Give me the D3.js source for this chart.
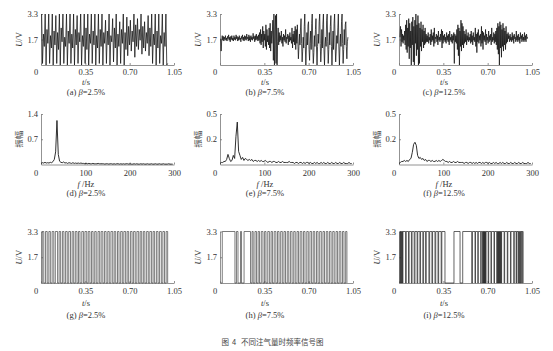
<!DOCTYPE html>
<html>
<head>
<meta charset="utf-8">
<script src="https://cdn.jsdelivr.net/npm/d3@7"></script>
<style>
  body { margin: 0; background: #fff; }
  svg { display: block; }
  .axis path, .axis line { stroke: #777; stroke-width: 0.8; }
  .axis text { font-family: 'Liberation Serif', serif; font-size: 8.5px; fill: #333; }
  .lbl { font-family: 'Liberation Serif', serif; font-size: 8.5px; fill: #333; }
</style>
</head>
<body>
<div id="chart"></div>
<script>
const width = 553
const height = 351

// tick values and their printed labels
const timeTicks = [0, 0.35, 0.7, 1.05]
const freqTicks = [0, 100, 200, 300]
const voltTicks = [1.65, 3.3]
const voltTickLabels = ['1.7', '3.3']
const ampTicksD = [0.7, 1.4]
const ampTickLabelsD = ['0.7', '1.4']
const ampTicksEF = [0.25, 0.5]
const ampTickLabelsEF = ['0.2', '0.5']
const letters = ['a', 'b', 'c', 'd', 'e', 'f', 'g', 'h', 'i']
const betas = ['2.5%', '7.5%', '12.5%']

// row 1: raw output voltage, samples spread evenly over the span (s)
const sigSpanA = [0.005, 1.0]
const sigA = [
  3.3,0.1,2.0,1.2, 3.3,0.0,2.3,1.4, 3.3,0.1,1.9,1.1, 3.3,0.0,2.2,1.3, 3.2,0.1,2.1,1.0,
  3.3,0.0,2.4,1.5, 3.3,0.1,1.8,1.2, 3.3,0.0,2.2,1.4, 3.3,0.1,2.0,1.1, 3.3,0.0,2.3,1.3,
  3.2,0.1,2.1,1.5, 3.3,0.0,1.9,1.2, 3.3,0.1,2.4,1.0, 3.3,0.0,2.0,1.4, 3.3,0.1,2.2,1.3,
  3.3,0.0,1.9,1.1, 3.3,0.1,2.3,1.2, 3.3,0.0,2.1,1.4,
  2.9,0.1,2.2,1.3, 3.3,0.0,1.9,1.5, 3.0,0.2,2.4,1.1, 3.3,0.0,2.0,1.2, 2.8,0.1,2.3,1.4,
  3.3,0.0,2.1,1.0,
  3.1,0.6,2.5,1.3, 2.9,0.9,2.2,1.5, 3.3,0.5,2.6,1.2, 3.0,1.0,2.3,1.6, 3.3,0.7,2.5,1.1,
  2.8,0.9,2.1,1.4, 3.2,0.6,2.4,1.2,
  3.3,0.1,2.0,1.3, 3.3,0.0,2.2,1.1, 3.3,0.1,1.9,1.4, 3.3,0.0,2.1,1.2, 3.3,0.0,0.1
]
const sigSpanB = [0.005, 1.01]
const sigB = [
  1.7,0.9,1.6,1.9,1.6,1.85,1.55,1.8,1.65,1.9,1.6,1.75,1.55,1.85,1.7,1.95,1.6,1.8,1.5,1.85,
  1.65,1.9,1.6,1.75,1.55,1.9,1.65,1.8,1.6,1.95,1.7,1.85,1.55,1.8,1.6,1.9,1.65,1.75,1.5,1.85,
  1.7,1.95,1.6,1.8,1.55,1.9,1.65,1.85,1.6,2.0,1.7,1.8,1.55,1.95,1.6,1.85,1.5,1.9,1.65,1.8,
  1.6,2.05,1.7,1.85,1.5,1.9,1.6,2.0,1.65,1.85,1.55,1.95,1.6,
  2.1,1.4,2.3,1.3,2.0,1.5,2.5,1.1,2.2,1.6,2.0,1.2,2.6,1.0,2.3,1.5,1.9,1.3,2.4,1.1,2.7,0.9,2.2,1.4,2.0,
  2.9,0.3,3.3,0.0,2.2,3.2,0.1,3.3,0.0,1.5,2.4,
  1.3,2.1,1.5,1.9,1.6,2.2,1.4,1.8,1.2,2.0,1.6,1.9,1.5,2.3,1.4,1.8,1.7,2.0,1.3,1.9,
  1.5,2.1,1.6,1.8,1.4,2.4,1.1,2.0,1.5,2.2,1.3,2.5,1.0,2.3,1.4,
  2.6,1.5,0.4,1.2,2.0,1.3,2.4, 3.0,1.4,0.2,0.9,1.8,1.1,2.5, 3.3,1.2,0.0,1.1,2.1,1.3,2.6,
  2.8,1.0,0.3,1.4,2.2,1.0,2.7, 3.3,1.3,0.1,0.8,1.9,1.2,2.3, 3.0,1.1,0.0,1.2,2.0,1.4,2.8,
  3.3,1.4,0.2,0.9,2.3,1.1,2.6, 3.3,1.0,0.0,1.3,1.8,1.2,2.9, 3.3,1.5,0.1,1.0,2.1,1.3,2.5,
  3.2,1.2,0.0,1.1,2.2,1.0,2.7, 3.3,1.3,0.2,0.9,1.9,1.4,2.4, 3.3,1.1,0.0,1.2,2.0,1.2,2.8,
  3.3,1.4,0.1,1.0,2.3,1.3,2.6, 2.8,1.2,0.4,1.5,1.8
]
const sigSpanC = [0.008, 1.015]
const sigC = [
  1.8,2.5,1.2,2.3,1.5,2.0,1.4,1.9,1.6,2.2,1.3,
  2.6,1.0,2.9,0.8,2.4,1.2,3.0,0.4,2.7,1.1,2.2,0.0,2.8,1.3,3.1,0.2,2.5,0.0,2.9,1.4,
  3.3,0.6,2.6,1.0,3.2,0.0,2.7,0.1,2.4,1.2,2.8,0.9,2.3,1.5,2.6,1.1,2.2,1.3,2.4,1.4,2.0,1.5,
  1.9,1.5,2.1,1.4,1.8,1.6,2.0,1.3,2.3,1.5,1.9,1.6,2.1,1.2,2.4,1.4,1.8,1.7,2.0,1.5,
  1.9,1.3,2.2,1.6,1.8,1.5,2.0,1.6,2.3,1.1,2.2,1.4,1.9,1.6,2.0,1.5,1.8,1.4,2.1,1.6,
  1.9,1.5,2.0,1.3,2.2,1.6,1.8,1.5,2.0,1.4,1.9,1.6,
  2.1,0.1,2.0,1.5,1.9,
  1.4,2.3,1.0,2.6,0.6,2.4,0.0,2.2,1.2,2.9,0.9,2.7,1.3,2.5,1.1,2.2,1.4,2.0,1.5,2.3,1.3,1.9,1.6,2.1,1.5,
  1.8,1.6,2.0,1.4,2.2,1.5,1.9,1.3,2.1,1.6,1.8,1.5,2.4,1.2,2.0,0.8,2.1,1.5,2.3,1.4,
  1.9,1.6,2.0,1.2,2.5,1.4,2.2,1.0,2.1,1.6,1.9,1.5,2.3,1.3,2.0,1.6,1.8,1.4,2.2,1.5,
  1.9,1.6,2.0,1.3,2.4,1.5,1.8,1.6,2.1,1.4,2.0,1.5,2.2,1.3,
  2.4,1.0,2.7,0.7,2.5,0.0,2.8,1.1,2.6,0.5,2.3,1.2,2.7,0.9,2.4,1.3,2.2,1.0,2.5,1.4,2.0,1.5,2.1,
  1.7,1.9,1.5,2.0,1.6,1.8,1.5,2.1,1.6,1.9,1.4,2.0,1.7,1.8,1.5,2.2,1.6,1.9,1.5,2.0,
  1.6,1.8,1.4,2.1,1.7,1.9,1.5,2.0,1.6,1.8,1.5,2.1,1.6,1.9,1.5,2.0,1.7,1.8
]

// row 2: amplitude spectra, one value every fftStep Hz from 0 Hz
const fftStep = 3
const specD = [
  0.03,0.05,0.04,0.06,0.04,0.05,0.04,0.06,0.05,0.08,
  0.14,0.35,1.22,0.28,0.09,
  0.06,0.05,0.07,0.04,0.05,0.03,0.05,0.04,0.03,0.05,0.03,0.04,0.03,0.04,0.03,
  0.04,0.03,0.03,0.02,0.03,0.02,0.03,0.02,0.02,0.03,0.02,0.02,0.02,0.03,0.02,0.02,0.02,0.02,0.01,0.02,
  0.02,0.01,0.02,0.02,0.01,0.02,0.01,0.02,0.02,0.01,0.02,0.01,0.02,0.01,0.02,0.02,0.01,0.02,0.01,0.01,
  0.02,0.01,0.02,0.01,0.01,0.02,0.01,0.02,0.01,0.01,0.02,0.01,0.01,0.02,0.01,0.01,0.02,0.01,0.01,0.02,
  0.01,0.01,0.02,0.01,0.01,0.01,0.02,0.01,0.01,0.01
]
const specE = [
  0.01,0.02,0.02,0.03,0.03,0.05,0.10,0.06,0.03,0.04,
  0.09,0.06,0.28,0.42,0.13,0.09,0.05,
  0.07,0.04,0.06,0.05,0.04,0.05,0.04,0.05,0.03,0.04,0.04,0.03,0.04,0.03,0.04,0.03,0.03,0.04,0.03,0.02,0.03,0.03,0.02,0.03,
  0.03,0.02,0.02,0.03,0.02,0.02,0.03,0.02,0.02,0.02,0.02,0.03,0.02,0.02,0.02,0.01,0.02,0.02,0.01,0.02,
  0.02,0.01,0.02,0.01,0.02,0.02,0.01,0.02,0.01,0.01,0.02,0.01,0.02,0.01,0.01,0.02,0.01,0.02,0.01,0.01,
  0.02,0.01,0.01,0.02,0.01,0.01,0.02,0.01,0.01,0.02,0.01,0.01,0.02,0.01,0.01,0.01,0.02,0.01,0.01
]
const specF = [
  0.01,0.02,0.03,0.03,0.04,0.03,0.04,0.03,0.05,0.06,
  0.12,0.20,0.22,0.19,0.09,0.06,0.07,
  0.05,0.06,0.04,0.05,0.03,0.04,0.04,0.03,0.04,0.03,0.03,0.04,0.03,0.04,0.03,0.04,0.05,0.04,0.03,
  0.03,0.02,0.03,0.02,0.02,0.03,0.02,0.02,0.03,0.02,0.02,0.02,0.02,0.01,0.02,0.02,0.01,0.02,0.02,0.01,
  0.02,0.01,0.02,0.01,0.02,
  0.02,0.01,0.02,0.01,0.02,0.02,0.01,0.02,0.01,0.01,0.02,0.01,0.02,0.01,0.01,0.02,0.01,0.02,0.01,0.01,
  0.02,0.01,0.01,0.02,0.01,0.01,0.02,0.01,0.01,0.02,0.01,0.01,0.02,0.01,0.01,0.01,0.02,0.01,0.01
]

// row 3: shaped pulse signal, switching times (s); starts low, toggles at each edge
const pulseStartG = 0.004
const edgesG = [
  0.010,0.022, 0.036,0.049, 0.062,0.074, 0.088,0.101, 0.113,0.131, 0.143,0.155, 0.169,0.181,
  0.194,0.207, 0.219,0.233, 0.246,0.258, 0.271,0.284, 0.296,0.308, 0.322,0.335, 0.347,0.361,
  0.373,0.386, 0.399,0.411, 0.424,0.436, 0.450,0.463, 0.475,0.488, 0.501,0.514, 0.527,0.539,
  0.552,0.566, 0.578,0.590, 0.604,0.616, 0.629,0.642, 0.654,0.668, 0.680,0.692, 0.706,0.719,
  0.731,0.744, 0.757,0.771, 0.783,0.795, 0.808,0.820, 0.834,0.847, 0.859,0.873, 0.885,0.897,
  0.911,0.924, 0.936,0.950, 0.962,0.975, 0.988,1.000
]
const pulseStartH = 0.004
const edgesH = [
  0.018,0.118, 0.130,0.142, 0.162,0.170, 0.190,0.241,
  0.253,0.262, 0.276,0.288, 0.301,0.312, 0.326,0.339, 0.352,0.363, 0.377,0.390, 0.403,0.414,
  0.428,0.441, 0.454,0.466, 0.479,0.492, 0.505,0.517, 0.531,0.543, 0.556,0.569, 0.582,0.594,
  0.608,0.620, 0.633,0.646, 0.659,0.671, 0.685,0.697, 0.710,0.723, 0.736,0.748, 0.762,0.774,
  0.787,0.800, 0.813,0.825, 0.839,0.851, 0.864,0.877, 0.890,0.902, 0.916,0.928, 0.941,0.954,
  0.967,0.979, 0.992,1.002
]
const pulseStartI = 0.004
const edgesI = [
  0.008,0.012, 0.016,0.020, 0.024,0.028, 0.031,
  0.052,0.057, 0.075,0.080, 0.098,0.103, 0.120,0.126, 0.143,0.148, 0.165,0.170, 0.188,0.194,
  0.210,0.215, 0.236,0.242, 0.260,0.265, 0.284,0.290, 0.308,0.313, 0.333,0.338,
  0.363,0.434, 0.482,0.503,
  0.574,0.580, 0.600,0.604, 0.622,0.626, 0.645,0.649, 0.660,0.663, 0.666,0.669,
  0.672,0.675, 0.678,0.681, 0.684,0.687, 0.704,0.708, 0.726,0.730, 0.750,0.754,
  0.772,0.775, 0.779,0.782, 0.786,0.789, 0.793,0.796, 0.800,0.803, 0.807,0.810,
  0.830,0.834, 0.855,0.859, 0.880,0.884, 0.906,0.910, 0.925,0.928,
  0.940,0.943, 0.950,0.953, 0.960,0.963, 0.970,0.973, 0.980
]

// layout
const colLeft = [41, 220, 399]
const plotW = 133
const rowBox = [[14, 65], [114, 164.5], [231.5, 283]]
const tickPad = [4, 5.5, 5]
const xLabelDy = [19.5, 22, 22.5]
const captionDy = [29.5, 31.5, 34.5]
const labelShift = 45

const svg = d3
  .select('#chart')
  .append('svg')
  .attr('width', width)
  .attr('height', height)
  .style('background', '#fff')

function sampled(values, span) {
  const t = d3.scaleLinear().domain([0, values.length - 1]).range(span)
  return values.map((v, i) => [t(i), v])
}

function spectrum(values) {
  return values.map((v, i) => [i * fftStep, v])
}

function pulses(start, edges) {
  const pts = [[start, 0]]
  let level = 0
  edges.forEach(e => {
    pts.push([e, level])
    level = level === 0 ? 3.3 : 0
    pts.push([e, level])
  })
  return pts
}

function panel(row, col, opts) {
  const x0 = colLeft[col]
  const [top, bottom] = rowBox[row]
  const x = d3.scaleLinear().domain(opts.xDomain).range([x0, x0 + plotW])
  const y = d3.scaleLinear().domain(opts.yDomain).range([bottom, top])
  const g = svg.append('g')

  g.append('g')
    .attr('class', 'axis')
    .attr('transform', 'translate(0,' + bottom + ')')
    .call(
      d3.axisBottom(x)
        .tickValues(opts.xTicks)
        .tickFormat(d => (d === 0 ? '0' : opts.xFormat(d)))
        .tickSizeInner(-2)
        .tickSizeOuter(0)
        .tickPadding(tickPad[row])
    )
    .selectAll('.tick text')
    .filter(d => d === 0)
    .attr('dx', -5.5)

  g.append('g')
    .attr('class', 'axis')
    .attr('transform', 'translate(' + x0 + ',0)')
    .call(
      d3.axisLeft(y)
        .tickValues(opts.yTicks)
        .tickFormat((d, i) => opts.yTickLabels[i])
        .tickSizeInner(-2)
        .tickSizeOuter(0)
        .tickPadding(3)
    )

  g.append('path')
    .datum(opts.points)
    .attr('fill', 'none')
    .attr('stroke', opts.color)
    .attr('stroke-width', opts.lw)
    .attr('stroke-linejoin', 'round')
    .attr('d', d3.line().x(d => x(d[0])).y(d => y(d[1])))

  // y label
  const yl = g.append('text')
    .attr('transform', 'translate(' + (x0 - 22) + ',' + (top + bottom) / 2 + ') rotate(-90)')
    .attr('text-anchor', 'middle')
    .attr('dy', '0.35em')
  if (opts.yLabel === 'U/V') {
    yl.attr('class', 'lbl')
    yl.append('tspan').attr('font-style', 'italic').text('U')
    yl.append('tspan').text('/V')
  } else {
    yl.attr('font-family', "'Noto Sans CJK SC', sans-serif")
      .attr('font-size', 8.5)
      .attr('fill', '#444')
      .text(opts.yLabel)
  }

  // x label
  const xl = g.append('text')
    .attr('class', 'lbl')
    .attr('x', x0 + labelShift)
    .attr('y', bottom + xLabelDy[row])
    .attr('text-anchor', 'middle')
  xl.append('tspan').attr('font-style', 'italic').text(opts.xSym)
  xl.append('tspan').text(opts.xUnit)

  // caption
  const cap = g.append('text')
    .attr('class', 'lbl')
    .attr('x', x0 + labelShift)
    .attr('y', bottom + captionDy[row])
    .attr('text-anchor', 'middle')
  cap.append('tspan').text('(' + letters[row * 3 + col] + ') ')
  cap.append('tspan').attr('font-style', 'italic').text('β')
  cap.append('tspan').text('=' + betas[col])
}

const timeFmt = d3.format('.2f')
const freqFmt = d3.format('d')

const timeOpts = {
  xDomain: [0, 1.05], xTicks: timeTicks, xFormat: timeFmt,
  yDomain: [0, 3.3], yTicks: voltTicks, yTickLabels: voltTickLabels,
  yLabel: 'U/V', xSym: 't', xUnit: '/s'
}

panel(0, 0, Object.assign({}, timeOpts, { points: sampled(sigA, sigSpanA), color: '#111', lw: 0.75 }))
panel(0, 1, Object.assign({}, timeOpts, { points: sampled(sigB, sigSpanB), color: '#111', lw: 0.75 }))
panel(0, 2, Object.assign({}, timeOpts, { points: sampled(sigC, sigSpanC), color: '#111', lw: 0.75 }))

const freqOpts = {
  xDomain: [0, 300], xTicks: freqTicks, xFormat: freqFmt,
  yLabel: '振幅', xSym: 'f', xUnit: ' /Hz', color: '#1a1a1a', lw: 0.9
}

panel(1, 0, Object.assign({}, freqOpts, { yDomain: [0, 1.4], yTicks: ampTicksD, yTickLabels: ampTickLabelsD, points: spectrum(specD) }))
panel(1, 1, Object.assign({}, freqOpts, { yDomain: [0, 0.5], yTicks: ampTicksEF, yTickLabels: ampTickLabelsEF, points: spectrum(specE) }))
panel(1, 2, Object.assign({}, freqOpts, { yDomain: [0, 0.5], yTicks: ampTicksEF, yTickLabels: ampTickLabelsEF, points: spectrum(specF) }))

panel(2, 0, Object.assign({}, timeOpts, { points: pulses(pulseStartG, edgesG), color: '#444', lw: 0.7 }))
panel(2, 1, Object.assign({}, timeOpts, { points: pulses(pulseStartH, edgesH), color: '#444', lw: 0.7 }))
panel(2, 2, Object.assign({}, timeOpts, { points: pulses(pulseStartI, edgesI), color: '#222', lw: 0.7 }))

const title = svg.append('text')
  .attr('x', 272.5)
  .attr('y', 345)
  .attr('text-anchor', 'middle')
  .attr('font-family', "'Noto Sans CJK SC', sans-serif")
  .attr('font-size', 7.5)
  .attr('fill', '#444')
title.append('tspan').text('图')
title.append('tspan').attr('dx', 3).text('4')
title.append('tspan').attr('dx', 5).text('不同注气量时频率信号图')
</script>
</body>
</html>
